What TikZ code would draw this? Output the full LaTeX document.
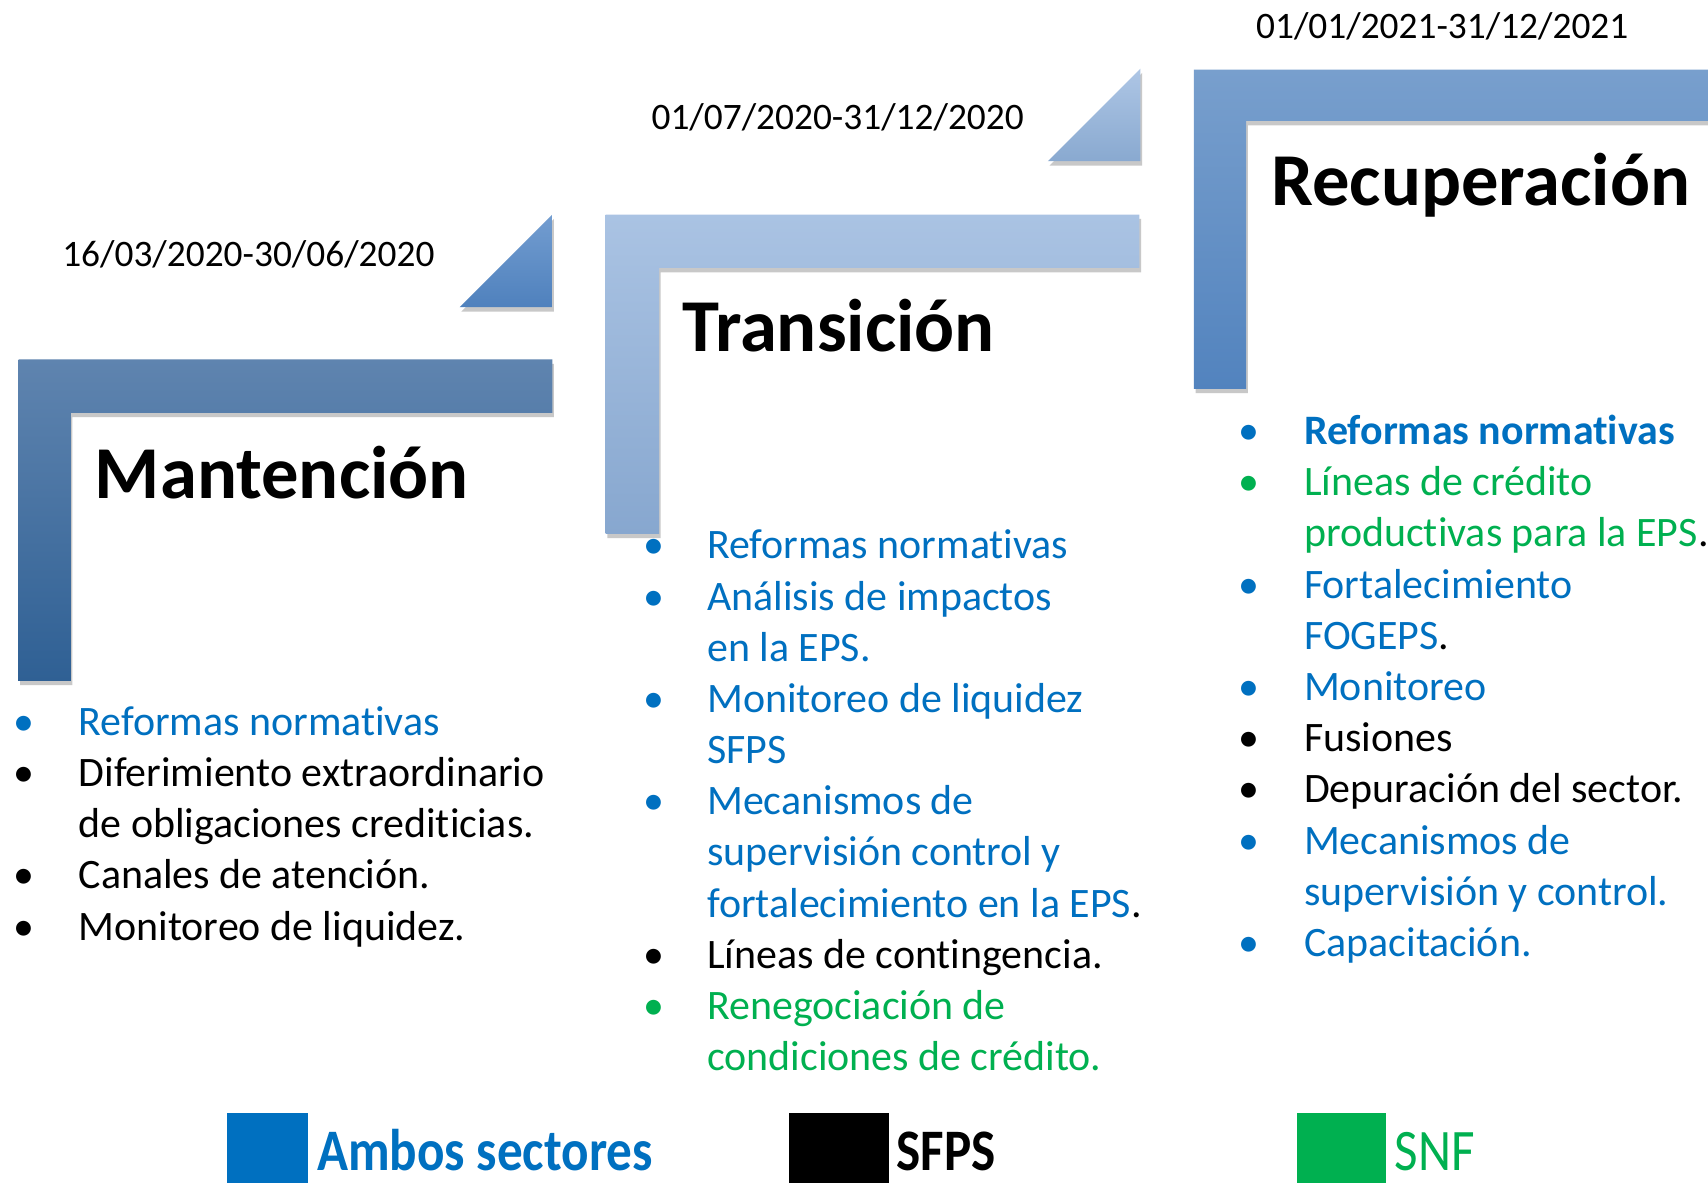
\documentclass[tikz,border=0pt]{standalone}
\usepackage{fontspec}
\setmainfont{Carlito}[RawFeature={-liga;-clig;-calt;-dlig;-rlig}]
\usetikzlibrary{shadows}
\definecolor{cblue}{HTML}{0070C0}
\definecolor{cgreen}{HTML}{00B050}
\definecolor{mTop}{HTML}{5F84AF}
\definecolor{mBot}{HTML}{2F6094}
\definecolor{mtTop}{HTML}{739DD0}
\definecolor{mtBot}{HTML}{4F81BD}
\definecolor{tTop}{HTML}{AAC3E3}
\definecolor{tBot}{HTML}{87A7CF}
\definecolor{ttTop}{HTML}{AEC6E5}
\definecolor{ttBot}{HTML}{89A9D0}
\definecolor{rTop}{HTML}{789FCD}
\definecolor{rBot}{HTML}{5283BE}
\tikzset{
  shad/.style={drop shadow={shadow xshift=1.5pt, shadow yshift=-4pt, opacity=0.3, fill=black!70}},
  body/.style={font=\fontsize{38.5}{46}\selectfont, inner sep=0pt, anchor=base west},
  bul/.style={font=\fontsize{38.5}{46}\selectfont, inner sep=0pt, anchor=base},
  ttl/.style={font=\fontsize{68.5}{80}\selectfont\bfseries, inner sep=0pt, anchor=base west},
  datet/.style={font=\fontsize{34.3}{40}\selectfont, inner sep=0pt, anchor=base},
  legt/.style={font=\fontsize{54}{60}\selectfont, inner sep=0pt, anchor=base west}
}
\begin{document}
\begin{tikzpicture}[x=1pt,y=-1pt]
\useasboundingbox (0,0) rectangle (1568,1086);
\fill[white] (0,0) rectangle (1568,1086);

% ---- L shapes and triangles
\path[shad, top color=mTop, bottom color=mBot]
  (17,330) -- (507,330) -- (507,379) -- (65,379) -- (65,625) -- (17,625) -- cycle;
\path[shad, top color=mtTop, bottom color=mtBot]
  (507,197) -- (507,282) -- (422,282) -- cycle;
\path[shad, top color=tTop, bottom color=tBot]
  (556,197) -- (1046,197) -- (1046,246) -- (605,246) -- (605,490) -- (556,490) -- cycle;
\path[shad, top color=ttTop, bottom color=ttBot]
  (1047,63) -- (1047,148) -- (962,148) -- cycle;
\path[shad, top color=rTop, bottom color=rBot]
  (1096,64) -- (1620,64) -- (1620,111) -- (1144,111) -- (1144,357) -- (1096,357) -- cycle;

% ---- dates
\node[datet] (d1) at (228,245) {16/03/2020-30/06/2020};
\node[datet] (d2) at (769,119) {01/07/2020-31/12/2020};
\node[datet] (d3) at (1324,35) {01/01/2021-31/12/2021};

% ---- titles
\node[ttl] (tm) at (87,458) {Mantención};
\node[ttl] (tt) at (626,323) {Transición};
\node[ttl] (tr) at (1167,189) {Recuperación};

% ---- Mantención list
\node[bul, text=cblue] (mb1) at (22,675) {•};
\node[body, text=cblue] (m1) at (72,675) {Reformas normativas};
\node[bul] (mb2) at (22,722) {•};
\node[body] (m2) at (72,722) {Diferimiento extraordinario};
\node[body] (m2b) at (72,769) {de obligaciones crediticias.};
\node[bul] (mb3) at (22,816) {•};
\node[body] (m3) at (72,816) {Canales de atención.};
\node[bul] (mb4) at (22,863) {•};
\node[body] (m4) at (72,863) {Monitoreo de liquidez.};

% ---- Transición list
\node[bul, text=cblue] (tb1) at (600,513) {•};
\node[body, text=cblue] (t1) at (649,513) {Reformas normativas};
\node[bul, text=cblue] (tb2) at (600,560) {•};
\node[body, text=cblue] (t2) at (649,560) {Análisis de impactos};
\node[body, text=cblue] (t2b) at (649,607) {en la EPS.};
\node[bul, text=cblue] (tb3) at (600,654) {•};
\node[body, text=cblue] (t3) at (649,654) {Monitoreo de liquidez};
\node[body, text=cblue] (t3b) at (649,701) {SFPS};
\node[bul, text=cblue] (tb4) at (600,748) {•};
\node[body, text=cblue] (t4) at (649,748) {Mecanismos de};
\node[body, text=cblue] (t4b) at (649,795) {supervisión control y};
\node[body, text=cblue] (t4c) at (649,842) {fortalecimiento en la EPS{\color{black}.}};
\node[bul] (tb5) at (600,889) {•};
\node[body] (t5) at (649,889) {Líneas de contingencia.};
\node[bul, text=cgreen] (tb6) at (600,936) {•};
\node[body, text=cgreen] (t6) at (649,936) {Renegociación de};
\node[body, text=cgreen] (t6b) at (649,983) {condiciones de crédito.};

% ---- Recuperación list
\node[bul, text=cblue] (rb1) at (1147,408) {•};
\node[body, text=cblue, font=\fontsize{38.5}{46}\selectfont\bfseries] (r1) at (1197,408) {Reformas normativas};
\node[bul, text=cgreen] (rb2) at (1147,455) {•};
\node[body, text=cgreen] (r2) at (1197,455) {Líneas de crédito};
\node[body, text=cgreen] (r2b) at (1197,502) {productivas para la EPS{\color{black}.}};
\node[bul, text=cblue] (rb3) at (1147,549) {•};
\node[body, text=cblue] (r3) at (1197,549) {Fortalecimiento};
\node[body, text=cblue] (r3b) at (1197,596) {FOGEPS{\color{black}.}};
\node[bul, text=cblue] (rb4) at (1147,643) {•};
\node[body, text=cblue] (r4) at (1197,643) {Monitoreo};
\node[bul] (rb5) at (1147,690) {•};
\node[body] (r5) at (1197,690) {Fusiones};
\node[bul] (rb6) at (1147,737) {•};
\node[body] (r6) at (1197,737) {Depuración del sector.};
\node[bul, text=cblue] (rb7) at (1147,784) {•};
\node[body, text=cblue] (r7) at (1197,784) {Mecanismos de};
\node[body, text=cblue] (r7b) at (1197,831) {supervisión y control.};
\node[bul, text=cblue] (rb8) at (1147,878) {•};
\node[body, text=cblue] (r8) at (1197,878) {Capacitación.};

% ---- legend
\fill[cblue] (208,1022) rectangle (283,1090);
\node[legt, text=cblue, font=\fontsize{54}{60}\selectfont\bfseries] (l1) at (291,1075) {\scalebox{0.87}[1]{Ambos sectores}};
\fill[black] (724,1022) rectangle (816,1090);
\node[legt, font=\fontsize{54}{60}\selectfont\bfseries] (l2) at (823,1075) {\scalebox{0.87}[1]{SFPS}};
\fill[cgreen] (1191,1022) rectangle (1272,1090);
\node[legt, text=cgreen] (l3) at (1280,1075) {\scalebox{0.87}[1]{SNF}};
\end{tikzpicture}
\end{document}
